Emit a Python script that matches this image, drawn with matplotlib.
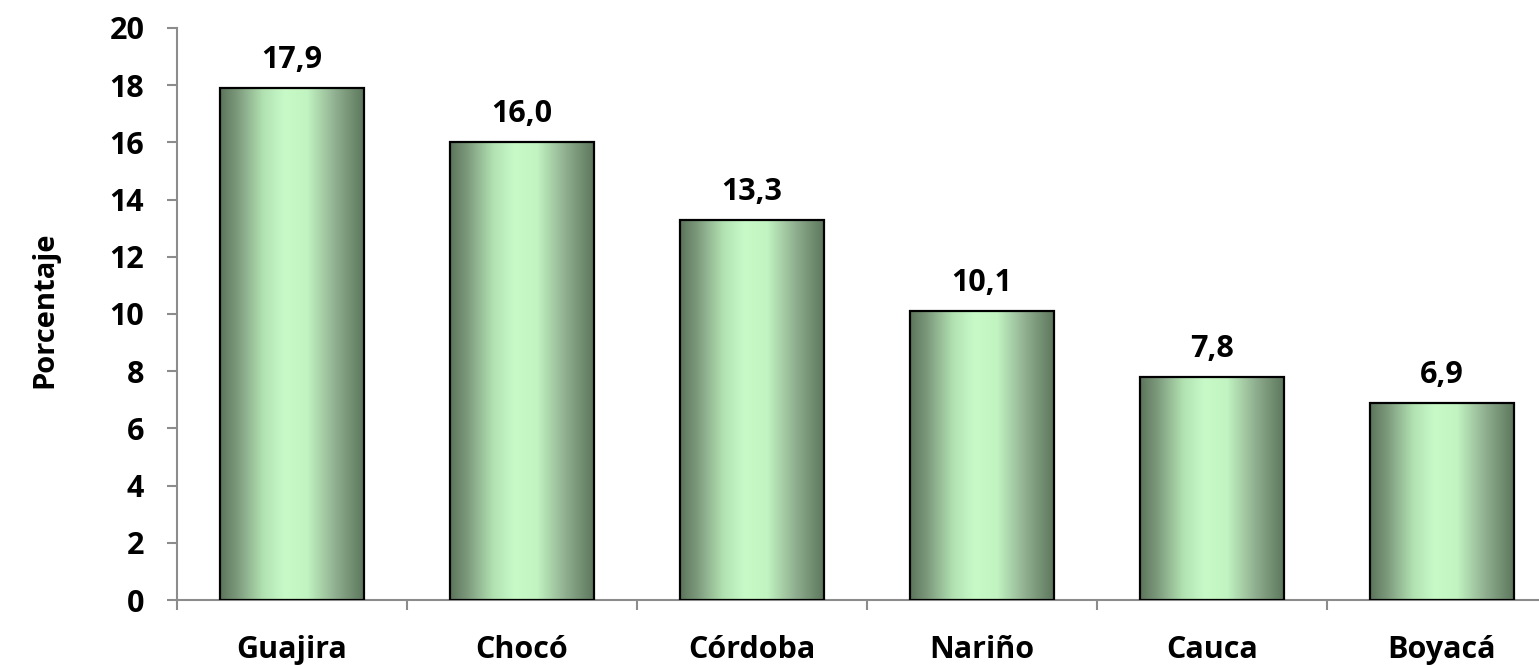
import numpy as np
import matplotlib as mpl
import matplotlib.pyplot as plt
from matplotlib.colors import LinearSegmentedColormap

plt.rcParams['font.family'] = ['Open Sans', 'DejaVu Sans']
plt.rcParams['font.weight'] = 'bold'

# data
departamentos = ['Guajira', 'Chocó', 'Córdoba', 'Nariño', 'Cauca', 'Boyacá']
porcentaje = [17.9, 16.0, 13.3, 10.1, 7.8, 6.9]
yticks = [0, 2, 4, 6, 8, 10, 12, 14, 16, 18, 20]

W, H = 1539, 665
fs = 22
fig = plt.figure(figsize=(W / 100, H / 100), dpi=100)
ax = fig.add_axes([177 / W, 65 / H, 1380 / W, 572 / H])

x = np.arange(len(departamentos))
bars = ax.bar(x, porcentaje, width=0.627, facecolor='none', edgecolor='black',
              linewidth=1.6, zorder=3)

# horizontal gradient inside each bar (dark edges, light centre)
cmap = LinearSegmentedColormap.from_list('verde', [
    (0.0, '#5b755b'), (0.12, '#7d9a7d'), (0.3, '#b2e2b2'),
    (0.45, '#c8fac8'), (0.6, '#c2f4c2'), (0.8, '#8fae8f'), (1.0, '#5b755b')])
grad = np.linspace(0, 1, 256).reshape(1, -1)
for b in bars:
    bx, by = b.get_x(), b.get_y()
    im = ax.imshow(grad, cmap=cmap, aspect='auto', interpolation='bilinear',
                   extent=[bx, bx + b.get_width(), by, by + b.get_height()], zorder=2)
    im.set_clip_path(b)

for xi, v in zip(x, porcentaje):
    ax.text(xi, v + 0.7, f'{v:.1f}'.replace('.', ','), ha='center', va='baseline',
            fontsize=fs, fontweight='bold')

ax.set_xlim(-0.5, len(departamentos) - 0.5)
ax.set_ylim(0, 20)
ax.set_yticks(yticks)
ax.set_yticklabels([str(t) for t in yticks], fontsize=fs, fontweight='bold')
ax.set_xticks(x)
ax.set_xticklabels(departamentos, fontsize=fs, fontweight='bold')
ax.set_xticks(np.arange(len(departamentos) + 1) - 0.5, minor=True)
ax.tick_params(axis='x', which='major', length=0, pad=25)
ax.tick_params(axis='x', which='minor', length=7.5, width=1.5, color='#8c8c8c')
ax.tick_params(axis='y', length=7.5, width=1.5, color='#8c8c8c', pad=16)

for s in ['top', 'right']:
    ax.spines[s].set_visible(False)
for s in ['left', 'bottom']:
    ax.spines[s].set_color('#8c8c8c')
    ax.spines[s].set_linewidth(1.5)

fig.text(45 / W, 1 - 310 / H, 'Porcentaje', rotation=90, ha='center', va='center',
         fontsize=21, fontweight='bold')

fig.savefig('out.png', dpi=100)
